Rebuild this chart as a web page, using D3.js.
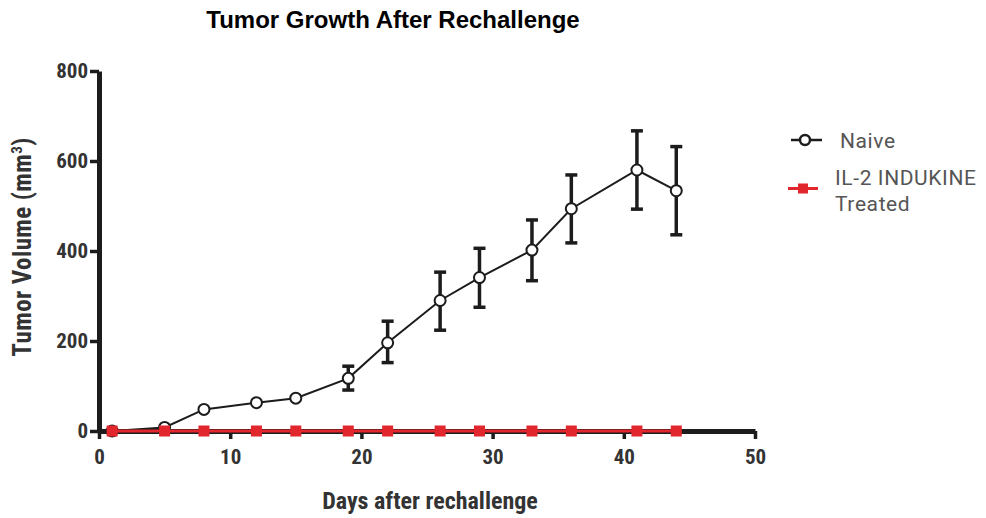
<!DOCTYPE html>
<html>
<head>
<meta charset="utf-8">
<script src="https://cdn.jsdelivr.net/npm/d3@7"></script>
<style>
  body { margin: 0; background: #fff; }
  svg { display: block; }
</style>
</head>
<body>
<script>
// data
const days = [1, 5, 8, 12, 15, 19, 22, 26, 29, 33, 36, 41, 44];
const naiveMean = [0, 8, 48, 63, 73, 117, 196, 290, 341, 402, 494, 580, 534];
const naiveLow = [0, 8, 48, 63, 73, 91, 152, 224, 275, 334, 418, 493, 436];
const naiveHigh = [0, 8, 48, 63, 73, 144, 244, 353, 406, 469, 569, 667, 632];
const treatedMean = [0, 0, 0, 0, 0, 0, 0, 0, 0, 0, 0, 0, 0];
const xTicks = [0, 10, 20, 30, 40, 50];
const yTicks = [0, 200, 400, 600, 800];

const width = 986, height = 518;
const margin = { top: 71, right: 231, bottom: 87, left: 99 };
const red = '#e2262d';
const ink = '#1c1c1c';
const condensed = '"Roboto Condensed", "Liberation Sans", sans-serif';

const svg = d3.select('body').append('svg')
  .attr('width', width)
  .attr('height', height);

const x = d3.scaleLinear().domain([0, 50]).range([margin.left, width - margin.right]);
const y = d3.scaleLinear().domain([0, 800]).range([height - margin.bottom, margin.top]);

// title
svg.append('text')
  .attr('x', 393).attr('y', 28)
  .attr('text-anchor', 'middle')
  .style('font-family', '"Liberation Sans", Arial, sans-serif')
  .style('font-weight', 'bold')
  .style('font-size', '24px')
  .attr('fill', '#000')
  .text('Tumor Growth After Rechallenge');

// axes
const xAxis = g => g
  .attr('transform', `translate(0,${y(0)})`)
  .call(d3.axisBottom(x).tickValues(xTicks).tickSize(8).tickPadding(10).tickSizeOuter(0))
  .call(g => g.select('.domain').attr('stroke', ink).attr('stroke-width', 5))
  .call(g => g.selectAll('.tick line').attr('stroke', ink).attr('stroke-width', 3.5))
  .call(g => g.selectAll('text')
    .attr('fill', '#333')
    .style('font-family', condensed)
    .style('font-weight', 'bold')
    .style('font-size', '21px'));

const yAxis = g => g
  .attr('transform', `translate(${x(0)},0)`)
  .call(d3.axisLeft(y).tickValues(yTicks).tickSize(9).tickPadding(2).tickSizeOuter(0))
  .call(g => g.select('.domain').attr('stroke', ink).attr('stroke-width', 5))
  .call(g => g.selectAll('.tick line').attr('stroke', ink).attr('stroke-width', 3.5))
  .call(g => g.selectAll('text')
    .attr('fill', '#333')
    .style('font-family', condensed)
    .style('font-weight', 'bold')
    .style('font-size', '21px'));

svg.append('g').call(xAxis);
svg.append('g').call(yAxis);

// axis titles
svg.append('text')
  .attr('x', 430).attr('y', 509)
  .attr('text-anchor', 'middle')
  .style('font-family', condensed)
  .style('font-weight', 'bold')
  .style('font-size', '24px')
  .attr('fill', '#333')
  .text('Days after rechallenge');

const yTitle = svg.append('text')
  .attr('transform', `translate(31,247) rotate(-90)`)
  .attr('text-anchor', 'middle')
  .style('font-family', condensed)
  .style('font-weight', 'bold')
  .style('font-size', '25px')
  .style('letter-spacing', '0.4px')
  .attr('fill', '#333');
yTitle.append('tspan').text('Tumor Volume (mm');
yTitle.append('tspan').attr('dy', -9).style('font-size', '15px').text('3');
yTitle.append('tspan').attr('dy', 9).text(')');

// naive series
const naive = days.map((d, i) => ({ day: d, mean: naiveMean[i], lo: naiveLow[i], hi: naiveHigh[i] }));
const treated = days.map((d, i) => ({ day: d, mean: treatedMean[i] }));

const line = d3.line().x(d => x(d.day)).y(d => y(d.mean));

// error bars
const err = svg.append('g').attr('stroke', ink).attr('stroke-width', 3.5);
naive.filter(d => d.hi > d.lo).forEach(d => {
  err.append('line').attr('x1', x(d.day)).attr('x2', x(d.day)).attr('y1', y(d.lo)).attr('y2', y(d.hi));
  err.append('line').attr('x1', x(d.day) - 6).attr('x2', x(d.day) + 6).attr('y1', y(d.lo)).attr('y2', y(d.lo));
  err.append('line').attr('x1', x(d.day) - 6).attr('x2', x(d.day) + 6).attr('y1', y(d.hi)).attr('y2', y(d.hi));
});

svg.append('path')
  .datum(naive)
  .attr('fill', 'none')
  .attr('stroke', ink)
  .attr('stroke-width', 2)
  .attr('d', line);

svg.append('g').selectAll('circle')
  .data(naive)
  .join('circle')
  .attr('cx', d => x(d.day))
  .attr('cy', d => y(d.mean))
  .attr('r', 5.5)
  .attr('fill', '#fff')
  .attr('stroke', ink)
  .attr('stroke-width', 2);

// treated series
svg.append('path')
  .datum(treated)
  .attr('fill', 'none')
  .attr('stroke', red)
  .attr('stroke-width', 3)
  .attr('d', line);

svg.append('g').selectAll('rect')
  .data(treated)
  .join('rect')
  .attr('x', d => x(d.day) - 5.5)
  .attr('y', d => y(d.mean) - 5.5)
  .attr('width', 11)
  .attr('height', 11)
  .attr('fill', red);

// legend
const legend = svg.append('g')
  .style('font-family', 'Roboto, "Liberation Sans", sans-serif')
  .style('font-size', '21px')
  .style('letter-spacing', '0.6px')
  .attr('fill', '#555');

legend.append('line').attr('x1', 791).attr('x2', 822).attr('y1', 140).attr('y2', 140)
  .attr('stroke', ink).attr('stroke-width', 2.5);
legend.append('circle').attr('cx', 805).attr('cy', 140).attr('r', 5)
  .attr('fill', '#fff').attr('stroke', ink).attr('stroke-width', 2.5);
legend.append('text').attr('x', 840).attr('y', 148).text('Naive');

legend.append('line').attr('x1', 788).attr('x2', 818).attr('y1', 188.5).attr('y2', 188.5)
  .attr('stroke', red).attr('stroke-width', 3);
legend.append('rect').attr('x', 798).attr('y', 183.5).attr('width', 10).attr('height', 10)
  .attr('fill', red);
legend.append('text').attr('x', 835).attr('y', 185).text('IL-2 INDUKINE');
legend.append('text').attr('x', 835).attr('y', 211).text('Treated');
</script>
</body>
</html>
